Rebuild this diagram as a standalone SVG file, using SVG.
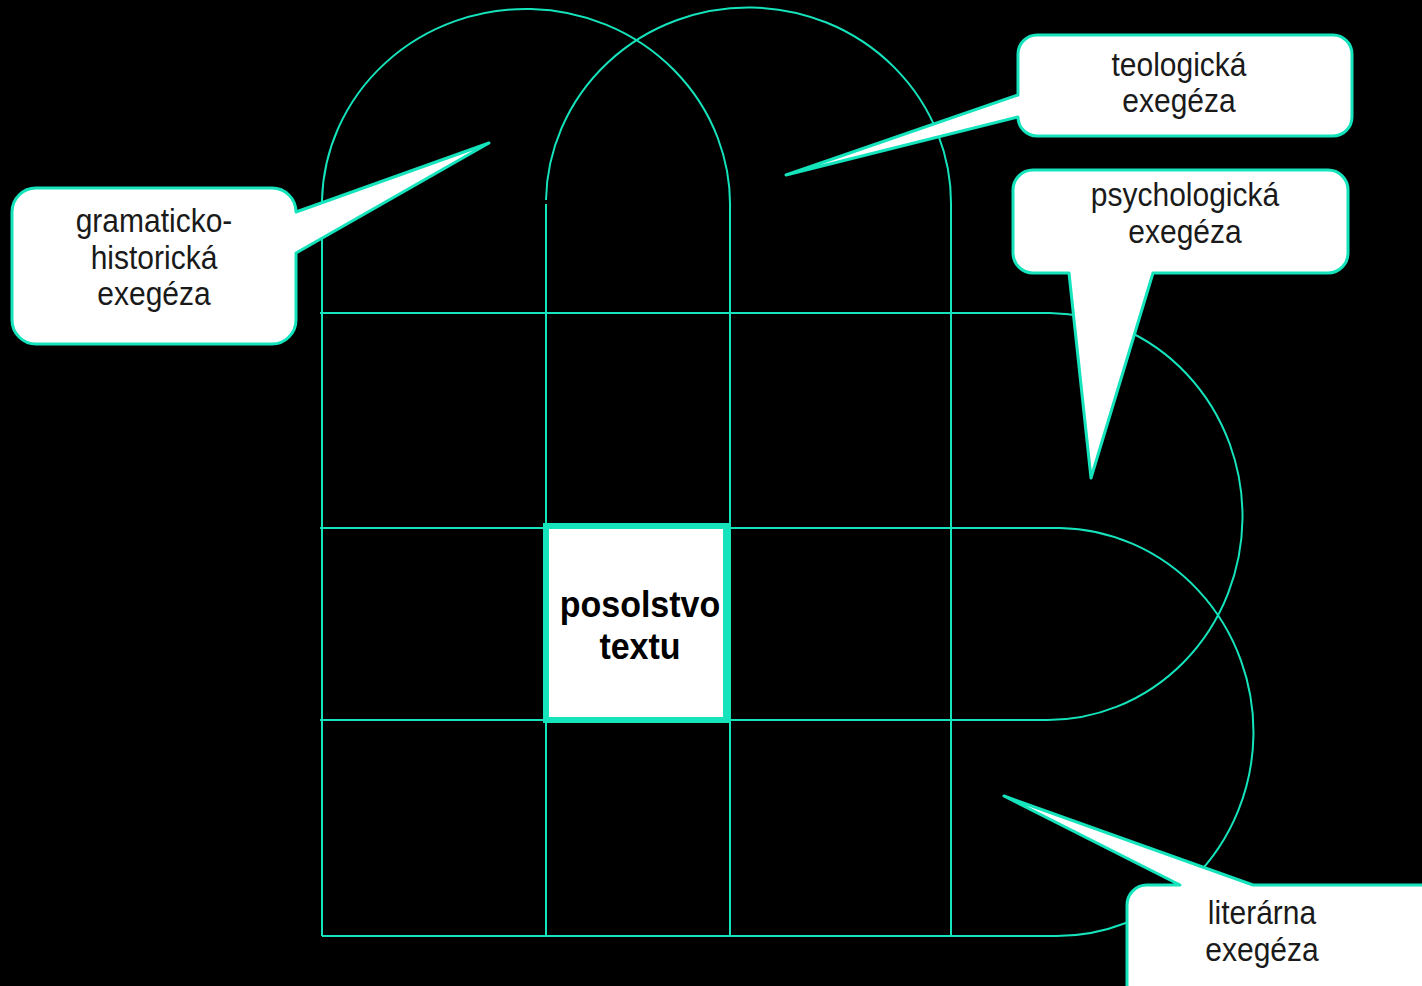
<svg xmlns="http://www.w3.org/2000/svg" width="1422" height="986" viewBox="0 0 1422 986">
<style>
.ln{fill:none;stroke:#14e3bc;stroke-width:2}
.co{fill:#fff;stroke:#14e3bc;stroke-width:3;stroke-linejoin:round}
.t{font-family:"Liberation Sans",Arial,sans-serif;font-size:30px;fill:#1a1a1a;text-anchor:middle}
.b{font-family:"Liberation Sans",Arial,sans-serif;font-size:34px;font-weight:bold;fill:#000;text-anchor:middle}
</style>
<rect x="0" y="0" width="1422" height="986" fill="#000"/>
<g id="connectors">
<path class="ln" d="M322,200 A204,196 0 0 1 730,210"/>
<path class="ln" d="M546,200 A202.5,196 0 0 1 951,207"/>
<path class="ln" d="M322,200 V936"/>
<path class="ln" d="M546,204 V936"/>
<path class="ln" d="M730,210 V936"/>
<path class="ln" d="M951,207 V936"/>
<path class="ln" d="M320,313 H1050"/>
<path class="ln" d="M320,528 H1060"/>
<path class="ln" d="M320,720 H1045"/>
<path class="ln" d="M322,936 H1053"/>
<path class="ln" d="M1050,313 A195,203.5 0 0 1 1045,720"/>
<path class="ln" d="M1060,528 A197,204 0 0 1 1053,936"/>
</g>
<g id="posolstvo">
<rect x="546" y="526" width="180" height="194" fill="#fff" stroke="#14e3bc" stroke-width="6"/>
<text class="b" transform="translate(640,617) scale(1,1.08)">posolstvo</text>
<text class="b" transform="translate(640,659) scale(1,1.08)">textu</text>
</g>
<g id="gramaticko">
<path class="co" d="M36,188 H272 A24,24 0 0 1 296,212 L489,143 L296,253 V320 A24,24 0 0 1 272,344 H36 A24,24 0 0 1 12,320 V212 A24,24 0 0 1 36,188 Z"/>
<text class="t" transform="translate(154,232) scale(1,1.1)">gramaticko-</text>
<text class="t" transform="translate(154,269) scale(1,1.1)">historická</text>
<text class="t" transform="translate(154,305) scale(1,1.1)">exegéza</text>
</g>
<g id="teologicka">
<path class="co" d="M1037,35 H1333 A19,19 0 0 1 1352,54 V117 A19,19 0 0 1 1333,136 H1037 A19,19 0 0 1 1018,117 L786,175 L1018,95 V54 A19,19 0 0 1 1037,35 Z"/>
<text class="t" transform="translate(1179,76) scale(1,1.1)">teologická</text>
<text class="t" transform="translate(1179,112) scale(1,1.1)">exegéza</text>
</g>
<g id="psychologicka">
<path class="co" d="M1033,170 H1328 A20,20 0 0 1 1348,190 V253 A20,20 0 0 1 1328,273 H1153 L1091,478 L1069,273 H1033 A20,20 0 0 1 1013,253 V190 A20,20 0 0 1 1033,170 Z"/>
<text class="t" transform="translate(1185,206) scale(1,1.1)">psychologická</text>
<text class="t" transform="translate(1185,243) scale(1,1.1)">exegéza</text>
</g>
<g id="literarna">
<path class="co" d="M1147,885 H1180 L1004,796 L1253,885 H1440 V1010 H1127 V905 A20,20 0 0 1 1147,885 Z"/>
<text class="t" transform="translate(1262,924) scale(1,1.1)">literárna</text>
<text class="t" transform="translate(1262,961) scale(1,1.1)">exegéza</text>
</g>
</svg>
